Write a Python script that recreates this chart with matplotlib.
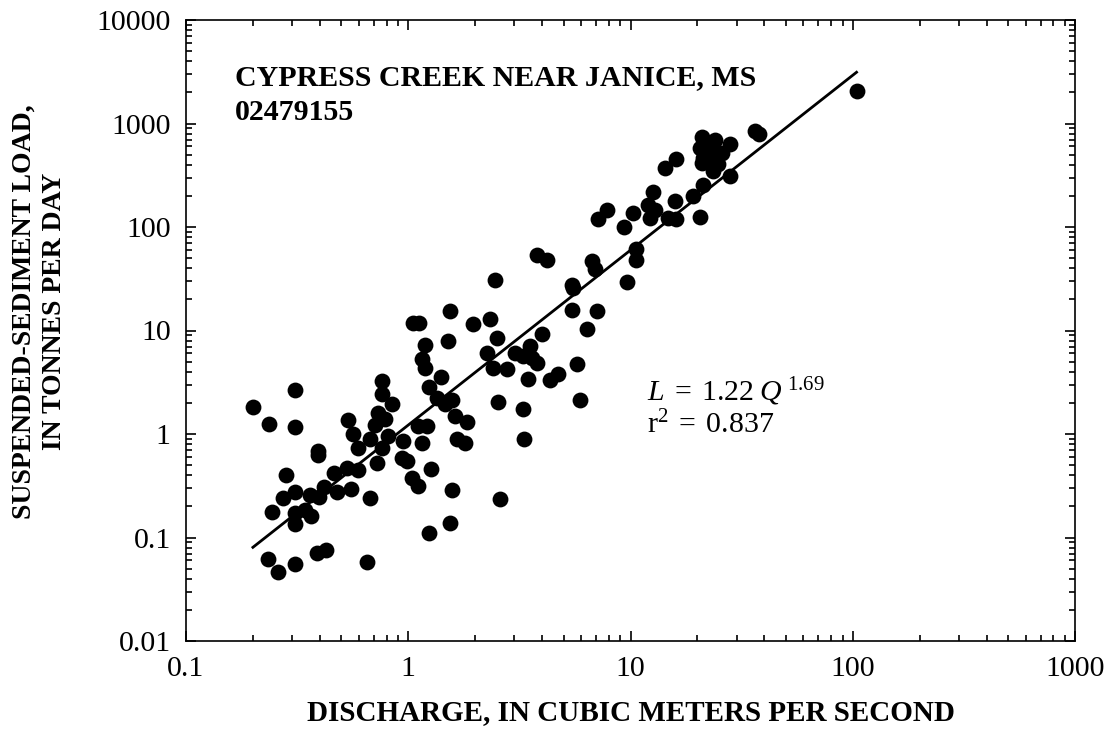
import numpy as np
import matplotlib
matplotlib.use("Agg")
import matplotlib.pyplot as plt
from matplotlib.ticker import LogLocator, FixedLocator, FixedFormatter, NullFormatter

plt.rcParams['font.family'] = ['Liberation Serif', 'DejaVu Serif']
plt.rcParams['mathtext.fontset'] = 'custom'
plt.rcParams['mathtext.rm'] = 'Liberation Serif'
plt.rcParams['mathtext.it'] = 'Liberation Serif:italic'

# discharge (m3/s) and suspended-sediment load (t/d) samples
discharge = [
    0.20, 0.236, 0.309, 0.309, 0.394, 0.394, 0.281, 0.274, 0.309, 0.245,
    0.309, 0.309, 0.343, 0.367, 0.361, 0.397, 0.418, 0.476, 0.463, 0.537,
    0.562, 0.593, 0.528, 0.596, 0.553, 0.673, 0.673, 0.709, 0.733, 0.76,
    0.76, 0.843, 0.786, 0.813, 0.76, 0.721, 0.95, 0.934, 0.984, 1.04,
    1.11, 1.11, 0.65, 0.39, 0.425, 0.233, 0.259, 0.309,
    2.45, 5.44, 5.5, 7.1, 5.44, 6.35, 5.72, 5.93, 4.34, 4.73,
    3.47, 3.27, 3.32, 2.59, 2.54, 3.98, 3.53, 3.02, 3.3, 3.78,
    3.59, 2.77, 2.41, 2.25, 2.5, 2.33, 1.96, 1.54, 1.51, 1.05,
    1.12, 1.19, 1.15, 1.19, 1.41, 1.24, 1.35, 1.57, 1.46, 1.62,
    1.83, 1.65, 1.8, 1.22, 1.15, 1.27, 1.57, 1.54, 1.24,
    104, 36.3, 37.9, 20.9, 24, 28, 20.6, 22.6, 25.7, 21.3,
    24, 20.9, 24.8, 23.6, 28, 21.3, 16, 14.3, 12.6, 12,
    12.9, 12.2, 10.3, 9.35, 7.8, 7.16, 15.9, 14.8, 16, 19.1,
    20.5, 10.6, 10.6, 9.67, 6.68, 6.92, 3.8, 4.2,
]
load = [
    1.83, 1.26, 2.65, 1.16, 0.68, 0.62, 0.40, 0.242, 0.274, 0.175,
    0.173, 0.136, 0.186, 0.163, 0.26, 0.247, 0.309, 0.274, 0.42, 1.38,
    1.0, 0.736, 0.471, 0.447, 0.295, 0.242, 0.90, 1.21, 1.6, 2.41,
    3.24, 1.97, 1.4, 0.95, 0.736, 0.527, 0.85, 0.59, 0.546, 0.377,
    0.313, 1.19, 0.058, 0.071, 0.075, 0.062, 0.046, 0.055,
    31, 27.8, 25.8, 15.4, 15.7, 10.4, 4.7, 2.12, 3.36, 3.76,
    3.41, 1.75, 0.9, 0.233, 2.03, 9.35, 7.05, 6.1, 5.65, 4.88,
    5.45, 4.27, 4.36, 6.1, 8.5, 13, 11.6, 15.4, 8.0, 11.8,
    11.9, 7.3, 5.33, 4.36, 3.57, 2.86, 2.24, 2.15, 1.93, 1.49,
    1.3, 0.885, 0.81, 1.19, 0.82, 0.454, 0.286, 0.139, 0.11,
    2050, 843, 800, 743, 700, 637, 582, 553, 521, 466,
    449, 417, 402, 346, 310, 257, 456, 373, 217, 162,
    147, 123, 137, 100, 147, 120, 178, 123, 120, 199,
    125, 61.6, 48.5, 29.3, 46.7, 39.4, 54, 48,
]

# rating curve L = a Q^b
coef = 1.22
expo = 1.69
r2 = 0.837

xticks = [0.1, 1, 10, 100, 1000]
xticklabels = ['0.1', '1', '10', '100', '1000']
yticks = [0.01, 0.1, 1, 10, 100, 1000, 10000]
yticklabels = ['0.01', '0.1', '1', '10', '100', '1000', '10000']

fig = plt.figure(figsize=(11.07, 7.44), dpi=100)
ax = fig.add_axes([186 / 1107, 1 - 641 / 744, (1075 - 186) / 1107, (641 - 20) / 744])

ax.scatter(discharge, load, s=130, color='black', linewidths=0, zorder=3)

qfit = np.array([min(discharge), max(discharge)])
ax.plot(qfit, coef * qfit ** expo, color='black', lw=2.0, zorder=2)

ax.set_xscale('log')
ax.set_yscale('log')
ax.set_xlim(0.1, 1000)
ax.set_ylim(0.01, 10000)

ax.xaxis.set_major_locator(FixedLocator(xticks))
ax.xaxis.set_major_formatter(FixedFormatter(xticklabels))
ax.yaxis.set_major_locator(FixedLocator(yticks))
ax.yaxis.set_major_formatter(FixedFormatter(yticklabels))
ax.xaxis.set_minor_locator(LogLocator(base=10, subs=np.arange(2, 10), numticks=20))
ax.yaxis.set_minor_locator(LogLocator(base=10, subs=np.arange(2, 10), numticks=20))
ax.xaxis.set_minor_formatter(NullFormatter())
ax.yaxis.set_minor_formatter(NullFormatter())

ax.tick_params(which='both', direction='in', top=True, right=True, width=1.2, colors='black')
ax.tick_params(which='major', length=7, labelsize=21.5)
ax.tick_params(which='minor', length=4.5)
ax.tick_params(axis='x', which='major', pad=11)
ax.tick_params(axis='y', which='major', pad=11)
for sp in ax.spines.values():
    sp.set_linewidth(1.2)

ax.set_xlabel('DISCHARGE, IN CUBIC METERS PER SECOND', fontsize=21, fontweight='bold', labelpad=12)
ax.set_ylabel('SUSPENDED-SEDIMENT LOAD,\nIN TONNES PER DAY', fontsize=20, fontweight='bold',
              linespacing=1.3)
ax.yaxis.set_label_coords(-0.134, 0.531)

fig.text(235 / 1107, 1 - 78 / 744, 'CYPRESS CREEK NEAR JANICE, MS', fontsize=21.5,
         fontweight='bold', va='center', ha='left')
fig.text(235 / 1107, 1 - 112 / 744, '02479155', fontsize=21.5,
         fontweight='bold', va='center', ha='left')

eq = r'$\mathit{L}\;\mathrm{=\;%.2f}\;\mathit{Q}^{\;\mathrm{%.2f}}$' % (coef, expo)
ax.text(0.518, 0.402, eq, transform=ax.transAxes, fontsize=21.5, ha='left', va='center')
ax.text(0.518, 0.347, r'$\mathrm{r}^{2}\mathrm{\;=\;%.3f}$' % r2, transform=ax.transAxes,
        fontsize=21.5, ha='left', va='center')

fig.savefig('out.png', dpi=100)
